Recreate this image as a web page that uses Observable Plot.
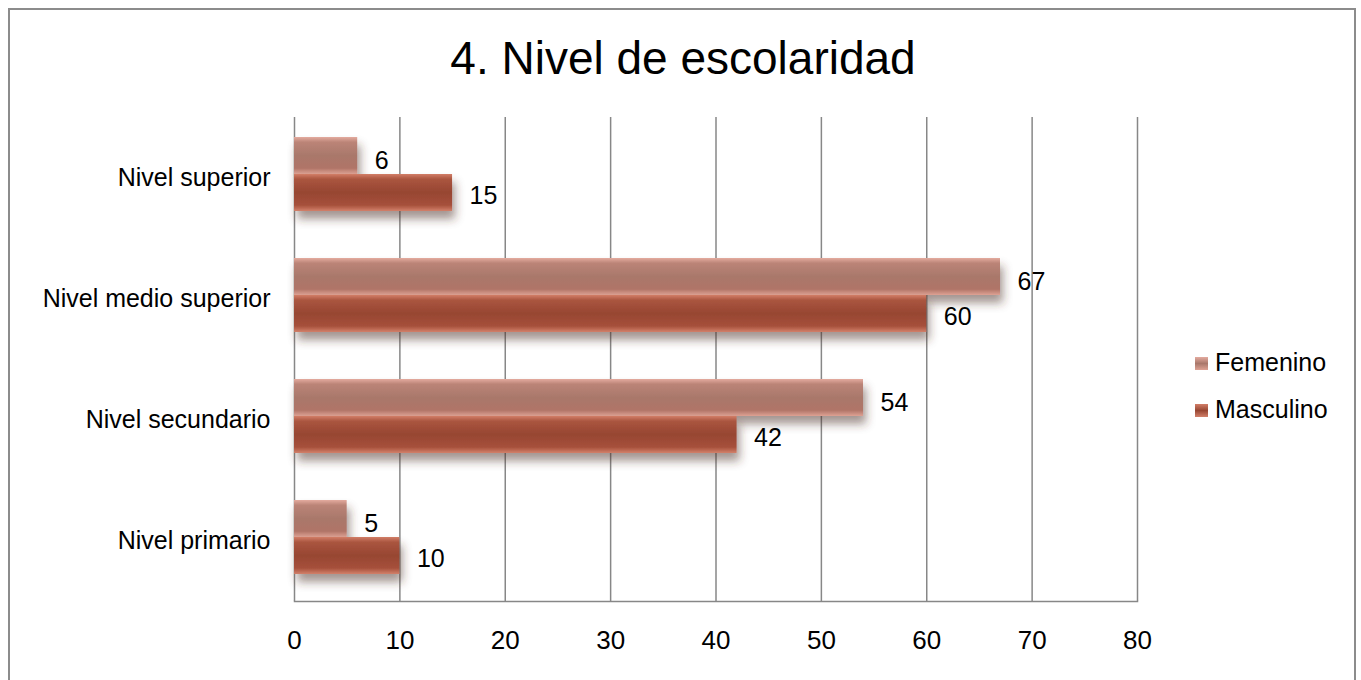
<!DOCTYPE html>
<html><head><meta charset="utf-8">
<script src="https://cdn.jsdelivr.net/npm/d3@7"></script>
<script src="https://cdn.jsdelivr.net/npm/@observablehq/plot@0.6"></script>
<style>
body{margin:0;background:#fff;font-family:"Liberation Sans",Arial,sans-serif;}
#wrap{position:relative;width:1361px;height:680px;overflow:hidden;background:#fff;}
#border{position:absolute;left:8px;top:8px;width:1348px;height:720px;border:2px solid #8c8c8c;box-sizing:border-box;}
#title{position:absolute;left:0;top:35px;width:1366px;text-align:center;font-size:46px;line-height:1;color:#000;}
#chart{position:absolute;left:0;top:0;}
.leg{position:absolute;left:1195px;font-size:25px;line-height:1;color:#000;white-space:nowrap;}
.leg i{display:inline-block;width:13px;height:13px;margin-right:7px;vertical-align:1px;}
</style></head>
<body>
<svg width="0" height="0" style="position:absolute">
<defs>
<linearGradient id="gF" x1="0" y1="0" x2="0" y2="1">
<stop offset="0" stop-color="#e4ab9f"/><stop offset="0.14" stop-color="#bb8477"/>
<stop offset="0.5" stop-color="#a9786b"/><stop offset="0.84" stop-color="#b07467"/>
<stop offset="1" stop-color="#dea294"/></linearGradient>
<linearGradient id="gM" x1="0" y1="0" x2="0" y2="1">
<stop offset="0" stop-color="#d27e68"/><stop offset="0.14" stop-color="#aa553f"/>
<stop offset="0.5" stop-color="#974632"/><stop offset="0.84" stop-color="#a6503b"/>
<stop offset="1" stop-color="#d2806a"/></linearGradient>
<filter id="sh" x="-5%" y="-10%" width="115%" height="130%">
<feGaussianBlur in="SourceAlpha" stdDeviation="5"/>
<feOffset dx="3" dy="8" result="b"/>
<feFlood flood-color="#4a2e24" flood-opacity="0.5"/>
<feComposite in2="b" operator="in"/>
<feMerge><feMergeNode/><feMergeNode in="SourceGraphic"/></feMerge>
</filter>
</defs></svg>
<div id="wrap">
<div id="border"></div>
<div id="title">4. Nivel de escolaridad</div>
<div id="chart"></div>
<div class="leg" style="top:350px"><i style="background:linear-gradient(#e4ab9f,#a9786b 50%,#dea294)"></i>Femenino</div>
<div class="leg" style="top:397px"><i style="background:linear-gradient(#d27e68,#974632 50%,#d2806a)"></i>Masculino</div>
</div>
<script>
const categories = ["Nivel superior", "Nivel medio superior", "Nivel secundario", "Nivel primario"];
const femenino = [6, 67, 54, 5];
const masculino = [15, 60, 42, 10];
const xTicks = [0, 10, 20, 30, 40, 50, 60, 70, 80];

const fem = categories.map((c, i) => ({cat: c, v: femenino[i]}));
const mas = categories.map((c, i) => ({cat: c, v: masculino[i]}));

const gridColor = "#878787";
const chart = Plot.plot({
  width: 1361,
  height: 680,
  marginTop: 117,
  marginBottom: 79,
  marginLeft: 294,
  marginRight: 224,
  style: {fontFamily: '"Liberation Sans", Arial, sans-serif', fontSize: "25px", color: "#000", background: "transparent"},
  x: {domain: [0, 80], label: null},
  y: {domain: categories, padding: 0, label: null},
  marks: [
    Plot.ruleX(xTicks, {stroke: gridColor, strokeWidth: 1.5, strokeOpacity: 1}),
    Plot.barX(fem, {x: "v", y: "cat", fill: "url(#gF)", insetTop: 20, insetBottom: 64}),
    Plot.barX(mas, {x: "v", y: "cat", fill: "url(#gM)", insetTop: 57, insetBottom: 27}),
    Plot.frame({anchor: "bottom", stroke: gridColor, strokeWidth: 1.5}),
    Plot.text(fem, {x: "v", y: "cat", text: d => String(d.v), textAnchor: "start", dx: 17, dy: -17.5, fontSize: 25, fill: "#000"}),
    Plot.text(mas, {x: "v", y: "cat", text: d => String(d.v), textAnchor: "start", dx: 17, dy: 17.5, fontSize: 25, fill: "#000"}),
    Plot.axisX({ticks: xTicks, tickSize: 0, tickPadding: 29, fontSize: 26, fill: "#000"}),
    Plot.axisY({tickSize: 0, tickPadding: 24, fontSize: 25, fill: "#000"})
  ]
});
chart.querySelectorAll('g[aria-label="bar"]').forEach(g => g.setAttribute("filter", "url(#sh)"));
document.getElementById("chart").appendChild(chart);
</script>
</body></html>
